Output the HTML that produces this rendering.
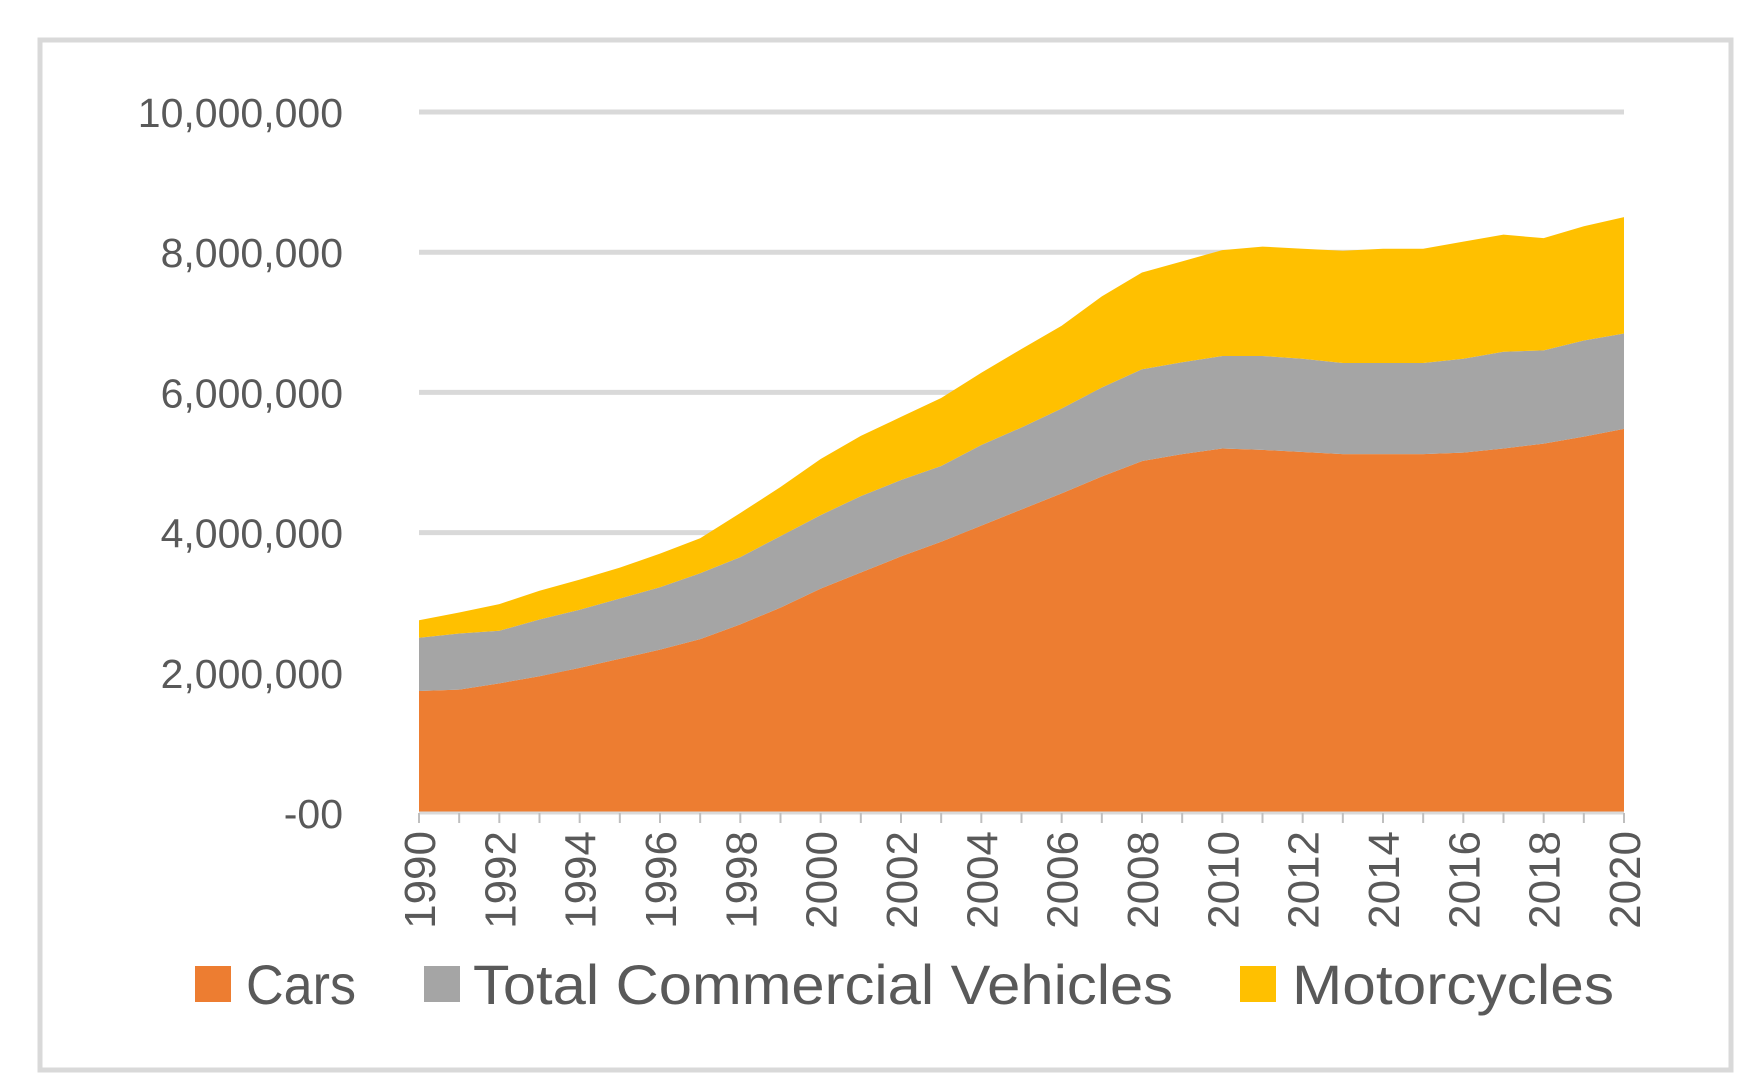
<!DOCTYPE html>
<html><head><meta charset="utf-8"><style>
body{margin:0;background:#fff;}
svg{display:block;font-family:"Liberation Sans",sans-serif;}
</style></head><body>
<svg id="chart" width="1762" height="1090">
<rect x="40" y="40" width="1691" height="1030" fill="#fff" stroke="#d9d9d9" stroke-width="5"/>
<g id="grid"></g><g id="areas"></g><g id="axis"></g>
<g font-size="56" fill="#595959">
<rect x="195" y="966" width="36" height="36" fill="#ED7D31"/>
<text x="246" y="1004" textLength="110" lengthAdjust="spacingAndGlyphs">Cars</text>
<rect x="424" y="966" width="36" height="36" fill="#A5A5A5"/>
<text x="473" y="1004" textLength="700" lengthAdjust="spacingAndGlyphs">Total Commercial Vehicles</text>
<rect x="1240" y="966" width="36" height="36" fill="#FFC000"/>
<text x="1292" y="1004" textLength="322" lengthAdjust="spacingAndGlyphs">Motorcycles</text>
</g>
</svg>
<script>
const years=[1990,1991,1992,1993,1994,1995,1996,1997,1998,1999,2000,2001,2002,2003,2004,2005,2006,2007,2008,2009,2010,2011,2012,2013,2014,2015,2016,2017,2018,2019,2020];
const cars=[1.74,1.76,1.85,1.95,2.07,2.2,2.33,2.48,2.69,2.93,3.2,3.43,3.66,3.87,4.1,4.33,4.56,4.8,5.02,5.12,5.2,5.18,5.15,5.12,5.12,5.12,5.14,5.2,5.27,5.37,5.48];
const commercial=[0.76,0.8,0.75,0.81,0.83,0.86,0.89,0.94,0.96,1.02,1.05,1.09,1.09,1.08,1.15,1.17,1.21,1.27,1.31,1.31,1.32,1.34,1.33,1.3,1.3,1.3,1.34,1.38,1.33,1.37,1.36];
const motorcycles=[0.25,0.3,0.38,0.41,0.43,0.44,0.48,0.5,0.63,0.7,0.8,0.86,0.9,0.97,1.03,1.12,1.18,1.3,1.38,1.44,1.51,1.56,1.57,1.6,1.63,1.63,1.67,1.67,1.6,1.63,1.66];
const yTicks=[0,2,4,6,8,10];
const yTickLabels=["-00","2,000,000","4,000,000","6,000,000","8,000,000","10,000,000"];
const NS="http://www.w3.org/2000/svg";
const X0=419,X1=1624,Y0=813,Y10=112;
const x=i=>X0+(X1-X0)*i/(years.length-1);
const y=v=>Y0-(Y0-Y10)*v/10;
function mk(tag,attrs,parent){const e=document.createElementNS(NS,tag);for(const k in attrs)e.setAttribute(k,attrs[k]);parent.appendChild(e);return e;}
const grid=document.getElementById('grid'),areas=document.getElementById('areas'),axis=document.getElementById('axis');
yTicks.forEach((t,i)=>{
 if(t>0){const l=mk('line',{x1:X0,x2:X1,y1:y(t),y2:y(t),stroke:'#d9d9d9','stroke-width':5},grid);
 
 }
 const tx=mk('text',{x:343,y:y(t)+15,'text-anchor':'end','font-size':41,fill:'#595959'},axis);
 tx.textContent=yTickLabels[i];
 
 
});
const base=years.map(()=>0);
[[cars,'#ED7D31','area-cars'],[commercial,'#A5A5A5','area-commercial'],[motorcycles,'#FFC000','area-motorcycles']].forEach(([s,c,n])=>{
 const top=base.map((b,i)=>b+s[i]);
 let d='M'+years.map((_,i)=>x(i)+','+y(top[i])).join('L');
 for(let i=years.length-1;i>=0;i--)d+='L'+x(i)+','+y(base[i]);
 d+='Z';
 const p=mk('path',{d:d,fill:c},areas);
 
 
 top.forEach((v,i)=>base[i]=v);
});
const ax=mk('line',{x1:X0,x2:X1,y1:Y0,y2:Y0,stroke:'#d9d9d9','stroke-width':3},axis);


years.forEach((yr,i)=>{
 const t=mk('line',{x1:x(i),x2:x(i),y1:Y0,y2:Y0+10,stroke:'#bfbfbf','stroke-width':2},axis);
 
 
 if(i%2===0){
  const tx=mk('text',{transform:`translate(${x(i)+16},${Y0+18}) rotate(-90)`,'text-anchor':'end','font-size':44,fill:'#595959'},axis);
  tx.textContent=yr;
  
  
 }
});
</script>
</body></html>
